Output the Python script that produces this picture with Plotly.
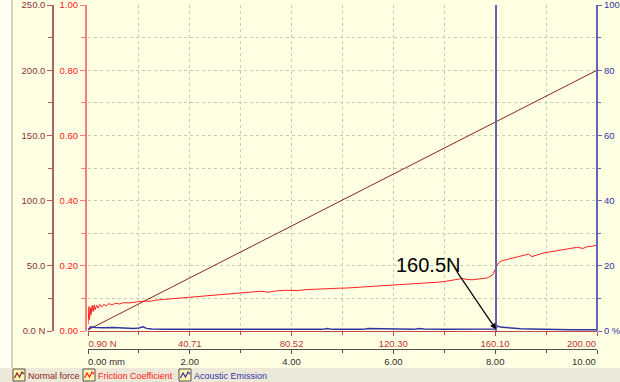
import plotly.graph_objects as go

# ---- data -------------------------------------------------------------
# scratch distance (mm) and the applied normal force (N) at the tick positions
distance_mm = [0.0, 2.0, 4.0, 6.0, 8.0, 10.0]
normal_force = [0.90, 40.71, 80.52, 120.30, 160.10, 200.00]
dist_labels = ["0.00 mm", "2.00", "4.00", "6.00", "8.00", "10.00"]
force_labels = ["0.90 N", "40.71", "80.52", "120.30", "160.10", "200.00"]

# friction coefficient along the scratch
fric_d = [0.00, 0.02, 0.03, 0.05, 0.06, 0.08, 0.10, 0.12, 0.14, 0.17, 0.20, 0.23,
          0.27, 0.31, 0.36, 0.41, 0.47, 0.54, 0.62, 0.70, 0.80, 0.90, 1.00, 1.10,
          1.22, 1.35, 1.50, 1.65, 1.80, 2.00, 2.20, 2.40, 2.60, 2.80, 3.00, 3.20,
          3.40, 3.55, 3.70, 3.90, 4.10, 4.30, 4.50, 4.70, 4.90, 5.10, 5.30, 5.50,
          5.70, 5.90, 6.10, 6.30, 6.50, 6.70, 6.90, 7.05, 7.20, 7.35, 7.45, 7.55,
          7.70, 7.85, 7.95, 8.00, 8.04, 8.08, 8.14, 8.22, 8.32, 8.45, 8.58, 8.66,
          8.72, 8.80, 8.92, 9.05, 9.20, 9.35, 9.50, 9.62, 9.72, 9.80, 9.90, 10.00]
fric_mu = [0.020, 0.075, 0.035, 0.070, 0.050, 0.078, 0.060, 0.080, 0.065, 0.079, 0.070, 0.081,
           0.074, 0.082, 0.077, 0.084, 0.080, 0.085, 0.083, 0.087, 0.086, 0.089, 0.090, 0.092,
           0.091, 0.095, 0.097, 0.098, 0.101, 0.103, 0.106, 0.109, 0.111, 0.114, 0.117, 0.120,
           0.122, 0.119, 0.123, 0.125, 0.124, 0.127, 0.129, 0.130, 0.131, 0.132, 0.134, 0.135,
           0.137, 0.138, 0.140, 0.142, 0.145, 0.147, 0.150, 0.153, 0.157, 0.161, 0.158, 0.157,
           0.160, 0.163, 0.172, 0.190, 0.203, 0.211, 0.216, 0.219, 0.223, 0.226, 0.232, 0.236,
           0.228, 0.232, 0.238, 0.242, 0.246, 0.250, 0.254, 0.257, 0.253, 0.258, 0.260, 0.264]

# acoustic emission (%)
ae_d = [0.00, 0.05, 0.15, 0.30, 0.50, 0.70, 0.90, 1.00, 1.08, 1.15, 1.25, 1.50, 2.00,
        3.00, 4.00, 4.60, 4.70, 4.80, 5.00, 5.40, 5.50, 6.00, 6.40, 6.50, 6.60, 7.00,
        7.50, 7.90, 8.00, 8.05, 8.10, 8.20, 8.30, 8.50, 8.70, 9.00, 9.40, 9.50, 10.00]
ae_v = [0.3, 1.3, 1.1, 1.0, 1.1, 0.9, 0.8, 0.9, 1.3, 0.8, 0.6, 0.5, 0.5,
        0.5, 0.5, 0.5, 0.8, 0.5, 0.5, 0.5, 0.8, 0.6, 0.5, 0.8, 0.6, 0.5,
        0.5, 0.5, 0.6, 1.5, 1.2, 1.1, 0.9, 0.7, 0.6, 0.5, 0.5, 0.4, 0.4]

critical_load = 160.5  # N

nf_ticks = [0, 50, 100, 150, 200, 250]
nf_tick_labels = ["0.0 N", "50.0", "100.0", "150.0", "200.0", "250.0"]
mu_ticks = [0.0, 0.2, 0.4, 0.6, 0.8, 1.0]
mu_tick_labels = ["0.00", "0.20", "0.40", "0.60", "0.80", "1.00"]
ae_ticks = [0, 20, 40, 60, 80, 100]
ae_tick_labels = ["0 %", "20", "40", "60", "80", "100"]

legend_items = ["Normal force", "Friction Coefficient", "Acoustic Emission"]

# ---- layout geometry (pixels of a 620 x 382 page) --------------------
W, H = 620, 382
L, R, T, B = 88, 597, 5, 331
BAND = 368

FONT = "Liberation Sans, Arial, sans-serif"
BG = "#FFFFE3"
GRID = "#CACABA"
GRID_DASH = "3px,3px"
C_NF, C_NF_AX, C_NF_TXT = "#8A2424", "#A86464", "#8C3636"
C_MU, C_MU_AX = "#FF2020", "#FF7A7A"
C_AE, C_AE_AX = "#3434A4", "#6464B4"
C_MM_TXT, C_N_TXT = "#303030", "#B83838"

px_x = lambda p: p / W
px_y = lambda p: 1 - p / H

NBSP = "\u00a0"

# first labels start at their tick, last labels end at their tick:
# the first is pushed right with padding, the last is written as a
# right-anchored note below the axis
dist_text = [NBSP * 14 + dist_labels[0]] + dist_labels[1:-1] + [""]
force_text = [NBSP * 11 + force_labels[0]] + force_labels[1:-1] + [""]

fig = go.Figure()

fig.add_trace(go.Scatter(x=distance_mm, y=normal_force, mode="lines",
                         line=dict(color=C_NF, width=1), xaxis="x", yaxis="y",
                         name=legend_items[0]))
fig.add_trace(go.Scatter(x=fric_d, y=fric_mu, mode="lines",
                         line=dict(color=C_MU, width=1), xaxis="x", yaxis="y2",
                         name=legend_items[1]))
fig.add_trace(go.Scatter(x=ae_d, y=ae_v, mode="lines",
                         line=dict(color=C_AE, width=1.5), xaxis="x", yaxis="y3",
                         name=legend_items[2]))
# marker at the critical load
fig.add_trace(go.Scatter(x=[critical_load, critical_load], y=[0, 100], mode="lines",
                         line=dict(color=C_AE_AX, width=2), xaxis="x2", yaxis="y3",
                         showlegend=False))

ydom = [px_y(B), px_y(T)]
xdom = [px_x(L), px_x(R)]
tickfont = dict(family=FONT, size=9.5)

fig.update_layout(
    width=W, height=H,
    margin=dict(l=0, r=0, t=0, b=0),
    paper_bgcolor=BG, plot_bgcolor=BG,
    showlegend=False,
    xaxis=dict(domain=xdom, range=[0, 10], anchor="free", position=px_y(349),
               showline=True, linecolor="#505050", linewidth=1,
               ticks="outside", ticklen=4, tickcolor="#505050",
               tickvals=distance_mm, ticktext=dist_text, ticklabeloverflow="allow",
               tickfont=dict(tickfont, color=C_MM_TXT),
               showgrid=True, gridcolor=GRID, griddash=GRID_DASH, gridwidth=1,
               minor=dict(dtick=1, tick0=0, ticks="outside", ticklen=3,
                          tickcolor="#505050", showgrid=True, gridcolor=GRID,
                          griddash=GRID_DASH),
               zeroline=False, automargin=False, fixedrange=True),
    xaxis2=dict(overlaying="x", range=[normal_force[0], normal_force[-1]],
                anchor="free", position=px_y(B),
                showline=True, linecolor="#C04848", linewidth=1,
                ticks="outside", ticklen=4, tickcolor="#C04848",
                tickvals=normal_force, ticktext=force_text, ticklabeloverflow="allow",
                tickfont=dict(tickfont, color=C_N_TXT),
                minor=dict(dtick=(normal_force[-1] - normal_force[0]) / 10,
                           tick0=normal_force[0], ticks="outside", ticklen=3,
                           tickcolor="#C04848"),
                showgrid=False, zeroline=False, automargin=False),
    yaxis=dict(domain=ydom, range=[0, 250], anchor="free", position=px_x(53),
               showline=True, linecolor=C_NF_AX, linewidth=1.5,
               ticks="outside", ticklen=5, tickcolor=C_NF_AX,
               tickvals=nf_ticks, ticktext=nf_tick_labels, ticklabeloverflow="allow",
               tickfont=dict(tickfont, color=C_NF_TXT),
               showgrid=True, gridcolor=GRID, griddash=GRID_DASH,
               minor=dict(dtick=25, ticks="outside", ticklen=4, tickcolor=C_NF_AX,
                          showgrid=True, gridcolor=GRID, griddash=GRID_DASH),
               zeroline=False, automargin=False),
    yaxis2=dict(overlaying="y", range=[0, 1], anchor="free", position=px_x(86),
                showline=True, linecolor=C_MU_AX, linewidth=2,
                ticks="outside", ticklen=5, tickcolor=C_MU_AX,
                tickvals=mu_ticks, ticktext=mu_tick_labels, ticklabeloverflow="allow",
                tickfont=dict(tickfont, color=C_MU),
                minor=dict(dtick=0.1, ticks="outside", ticklen=4, tickcolor=C_MU_AX),
                showgrid=False, zeroline=False, automargin=False),
    yaxis3=dict(overlaying="y", range=[0, 100], anchor="free", side="right",
                position=px_x(R),
                showline=True, linecolor=C_AE_AX, linewidth=2,
                ticks="outside", ticklen=4, tickcolor=C_AE_AX,
                tickvals=ae_ticks, ticktext=ae_tick_labels, ticklabeloverflow="allow",
                tickfont=dict(tickfont, color=C_AE),
                minor=dict(dtick=10, ticks="outside", ticklen=3, tickcolor=C_AE_AX),
                showgrid=False, zeroline=False, automargin=False),
)

shapes = [
    # pale strip and frame line on the left edge
    dict(type="rect", xref="paper", yref="paper", x0=0, x1=px_x(12),
         y0=px_y(BAND), y1=1, fillcolor="#FFFFF2", line=dict(width=0), layer="below"),
    dict(type="line", xref="paper", yref="paper", x0=px_x(12), x1=px_x(12),
         y0=px_y(BAND), y1=1, line=dict(color="#A8A890", width=1)),
    # legend band
    dict(type="rect", xref="paper", yref="paper", x0=0, x1=1, y0=0, y1=px_y(BAND),
         fillcolor="#ECE9D8", line=dict(width=0), layer="below"),
]

annotations = [
    dict(x=critical_load, y=0.5, xref="x2", yref="y3", text="", showarrow=True,
         ax=-40, ay=-59, arrowhead=2, arrowsize=1, arrowwidth=1.2, arrowcolor="#000000"),
    dict(x=px_x(428), y=px_y(265), xref="paper", yref="paper",
         xanchor="center", yanchor="middle",
         text=f"{critical_load}N", showarrow=False,
         font=dict(family=FONT, size=20, color="#000000")),
    # last labels of the two bottom scales, ending at their ticks
    dict(x=normal_force[-1], y=px_y(343), xref="x2", yref="paper",
         text=force_labels[-1], showarrow=False, xanchor="right", yanchor="middle",
         borderpad=0, font=dict(tickfont, color=C_N_TXT)),
    dict(x=distance_mm[-1], y=px_y(361), xref="x", yref="paper",
         text=dist_labels[-1], showarrow=False, xanchor="right", yanchor="middle",
         borderpad=0, font=dict(tickfont, color=C_MM_TXT)),
]

# legend row: small chart icons followed by coloured captions
legend_colors = [C_NF, C_MU, C_AE]
legend_x = [13, 83, 179]
ly0, ly1 = 369, 381
for name, col, x0 in zip(legend_items, legend_colors, legend_x):
    shapes.append(dict(type="rect", xref="paper", yref="paper",
                       x0=px_x(x0), x1=px_x(x0 + 12), y0=px_y(ly1), y1=px_y(ly0),
                       fillcolor="#FFF6B0", line=dict(color="#505050", width=1)))
    pts = [(x0 + 1.5, 378), (x0 + 4, 373), (x0 + 6.5, 377), (x0 + 9, 372), (x0 + 11, 374)]
    path = "M " + " L ".join(f"{px_x(a):.5f},{px_y(b):.5f}" for a, b in pts)
    shapes.append(dict(type="path", xref="paper", yref="paper", path=path,
                       line=dict(color=col, width=1.2)))
    annotations.append(dict(x=px_x(x0 + 12.5), y=px_y(375.5), xref="paper", yref="paper",
                            text=name, showarrow=False, xanchor="left", yanchor="middle",
                            font=dict(family=FONT, size=9, color=col)))

fig.update_layout(shapes=shapes, annotations=annotations)

fig.write_html("out.html")
